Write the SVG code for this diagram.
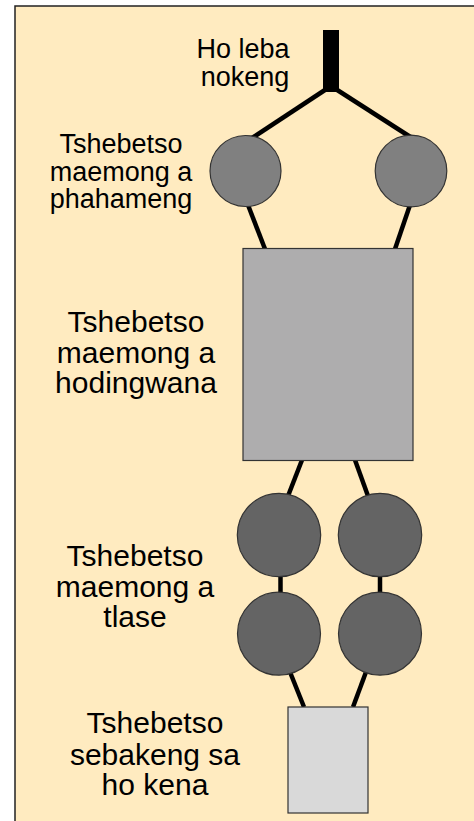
<svg xmlns="http://www.w3.org/2000/svg" width="474" height="821" viewBox="0 0 474 821">
<style>
.t{font-family:"Liberation Sans",Arial,sans-serif;fill:#000;text-anchor:middle}
.s{font-size:27px}
.b{font-size:30px}
.c{stroke:#000;stroke-width:4.5;fill:none}
.n{stroke:#333;stroke-width:1.2}
</style>
<rect x="15" y="6" width="475" height="830" fill="#FFEBC0" stroke="#222" stroke-width="1.5"/>
<g id="connectors">
<line class="c" x1="331" y1="86" x2="252" y2="138"/>
<line class="c" x1="331" y1="86" x2="412" y2="138"/>
<line class="c" x1="248" y1="205" x2="265" y2="249"/>
<line class="c" x1="410" y1="205" x2="395" y2="249"/>
<line class="c" x1="302" y1="460" x2="288" y2="496"/>
<line class="c" x1="355" y1="460" x2="368" y2="496"/>
<line class="c" x1="280.5" y1="576" x2="280.5" y2="593"/>
<line class="c" x1="380" y1="576" x2="380" y2="593"/>
<line class="c" x1="290" y1="672" x2="304" y2="707"/>
<line class="c" x1="366" y1="672" x2="353" y2="707"/>
</g>
<g id="sensor">
<rect x="323" y="30" width="16" height="62" fill="#000"/>
<text class="t s" x="243" y="58">Ho leba</text>
<text class="t s" x="245" y="85.5">nokeng</text>
</g>
<g id="upper">
<circle class="n" cx="245.5" cy="171" r="35.5" fill="#808080"/>
<circle class="n" cx="411" cy="171" r="35.8" fill="#808080"/>
<text class="t s" x="121" y="153">Tshebetso</text>
<text class="t s" x="121" y="180.5">maemong a</text>
<text class="t s" x="121" y="208">phahameng</text>
</g>
<g id="middle">
<rect class="n" x="243" y="248.5" width="170" height="212" fill="#AEADAE"/>
<text class="t b" x="136" y="332">Tshebetso</text>
<text class="t b" x="136" y="363">maemong a</text>
<text class="t b" x="136" y="393">hodingwana</text>
</g>
<g id="lower">
<circle class="n" cx="279" cy="535" r="41.7" fill="#646464"/>
<circle class="n" cx="380" cy="535" r="41.7" fill="#646464"/>
<circle class="n" cx="279" cy="633.7" r="41.5" fill="#646464"/>
<circle class="n" cx="380" cy="633.7" r="41.5" fill="#646464"/>
<text class="t b" x="135" y="566">Tshebetso</text>
<text class="t b" x="135" y="597">maemong a</text>
<text class="t b" x="135" y="627">tlase</text>
</g>
<g id="local">
<rect class="n" x="288" y="707" width="80" height="106" fill="#D9D9D9"/>
<text class="t b" x="155" y="733">Tshebetso</text>
<text class="t b" x="155" y="765">sebakeng sa</text>
<text class="t b" x="155" y="795">ho kena</text>
</g>
</svg>
